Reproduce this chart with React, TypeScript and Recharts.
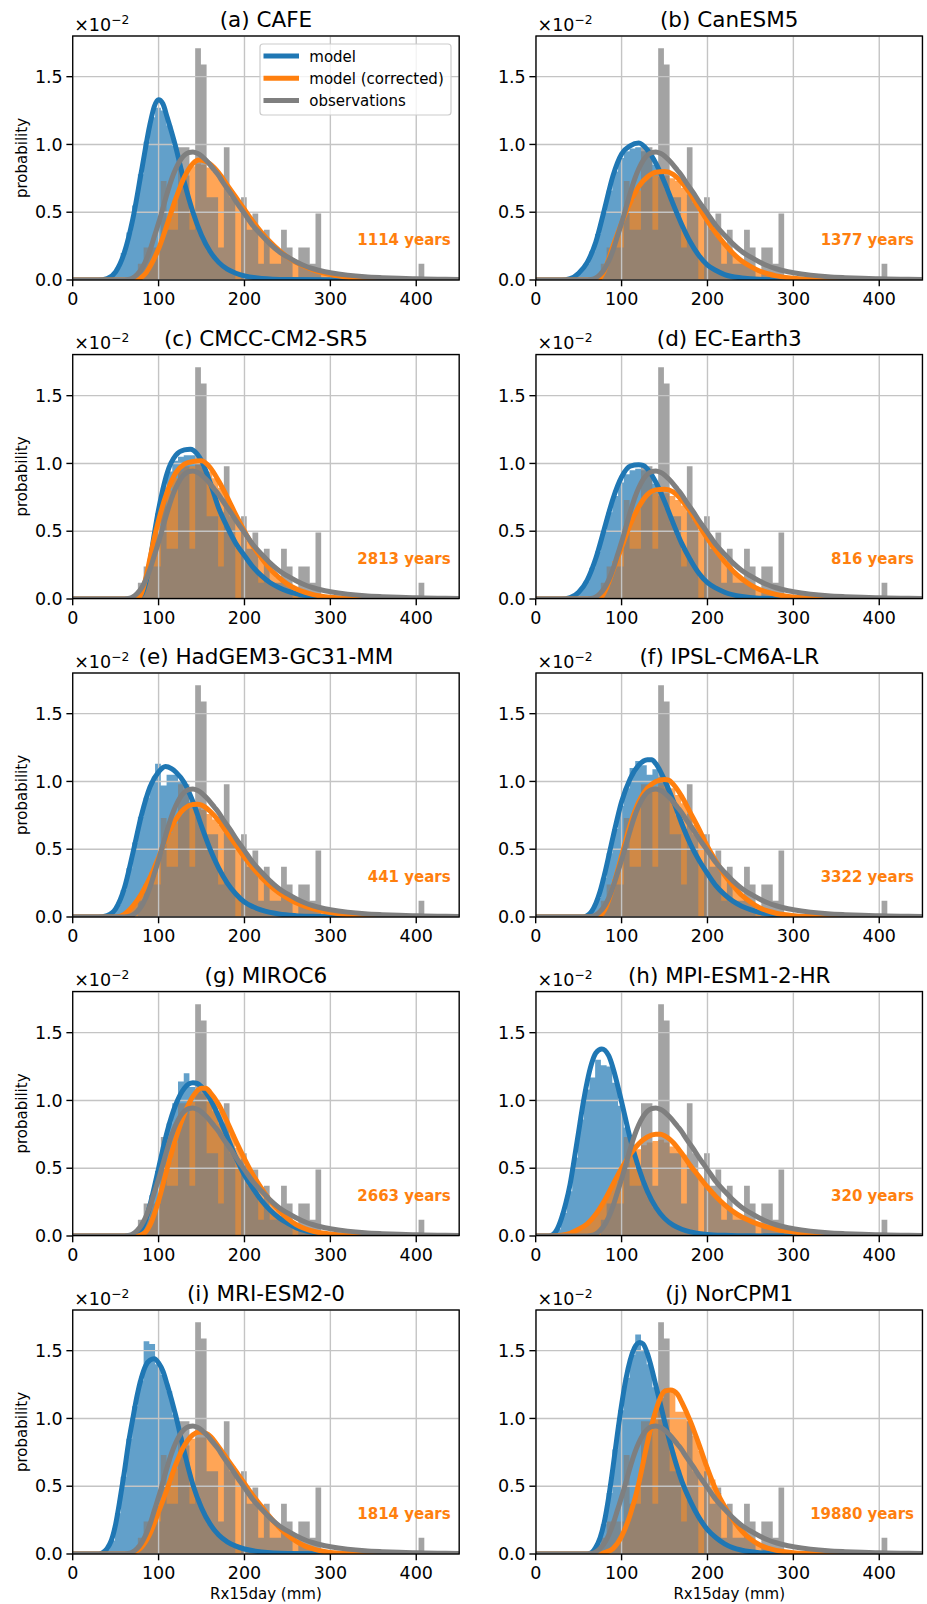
import React from 'react';
import { ComposedChart, Area, Line, XAxis, YAxis, CartesianGrid } from 'recharts';

// ---------- axes / ticks ----------
const X_TICKS = [0, 100, 200, 300, 400];
const Y_TICKS = [0, 0.5, 1.0, 1.5];
const X_DOMAIN: [number, number] = [0, 450];
const Y_DOMAIN: [number, number] = [0, 1.8];

// ---------- shared histogram bin edges (mm) ----------
const EDGES = [22.5, 29.2, 35.9, 42.5, 49.2, 55.9, 62.5, 69.2, 75.9, 82.6, 89.2, 95.9, 102.6, 109.3, 115.9, 122.6, 129.3, 135.9, 142.6, 149.3, 155.9, 162.6, 169.3, 176.0, 182.6, 189.3, 196.0, 202.6, 209.3, 216.0, 222.6, 229.3, 236.0, 242.6, 249.3, 256.0, 262.7, 269.3, 276.0, 282.7, 289.3, 296.0, 302.7, 309.3, 316.0, 322.7, 329.3, 336.0, 342.7, 349.3, 356.0, 362.7, 369.3, 376.0, 382.7, 389.3, 396.0, 402.7, 409.4];

// ---------- observations (same in every panel), values x 1e-2 ----------
const OBS_HIST = [0, 0, 0, 0, 0, 0, 0, 0, 0.12, 0.24, 0.24, 0.24, 0.73, 0.37, 0.37, 0.98, 0.98, 0.37, 1.71, 1.59, 0.61, 0.61, 0.24, 0.98, 0.61, 0, 0.61, 0.37, 0.49, 0.12, 0.37, 0.12, 0.12, 0.37, 0.24, 0, 0.24, 0.24, 0.12, 0.49, 0, 0, 0, 0, 0, 0, 0, 0, 0, 0, 0, 0, 0, 0, 0, 0, 0, 0.12];
const OBS_PDF: [number, number][] = [[0, 0], [60, 0], [65, 0.004], [70, 0.015], [75, 0.04], [80, 0.08], [85, 0.14], [90, 0.22], [95, 0.32], [100, 0.42], [105, 0.53], [110, 0.64], [115, 0.74], [120, 0.82], [125, 0.88], [130, 0.92], [135, 0.94], [140, 0.945], [145, 0.935], [150, 0.915], [155, 0.885], [160, 0.85], [165, 0.81], [170, 0.77], [175, 0.72], [180, 0.675], [185, 0.63], [190, 0.58], [195, 0.535], [200, 0.49], [210, 0.4], [220, 0.33], [230, 0.265], [240, 0.21], [250, 0.17], [260, 0.135], [270, 0.105], [280, 0.083], [290, 0.066], [300, 0.054], [320, 0.036], [340, 0.024], [360, 0.017], [380, 0.012], [400, 0.009], [425, 0.006], [450, 0.004]];

// ---------- (a) CAFE ----------
const CAFE_MODEL_HIST = [0, 0, 0.01, 0.03, 0.09, 0.2, 0.35, 0.55, 0.78, 1.02, 1.2, 1.27, 1.25, 1.14, 0.99, 0.82, 0.66, 0.5, 0.39, 0.29, 0.21, 0.16, 0.11, 0.08, 0.06, 0.04, 0.03, 0.02];
const CAFE_CORR_HIST = [0, 0, 0, 0, 0, 0, 0, 0, 0.02, 0.05, 0.12, 0.21, 0.32, 0.45, 0.58, 0.68, 0.77, 0.84, 0.86, 0.85, 0.83, 0.8, 0.75, 0.69, 0.64, 0.59, 0.53, 0.46, 0.41, 0.35, 0.3, 0.26, 0.22, 0.19, 0.16, 0.13, 0.11, 0.09, 0.075, 0.06, 0.05, 0.04, 0.033, 0.027, 0.022];
const CAFE_MODEL_PDF: [number, number][] = [[0, 0], [30, 0], [40, 0.01], [50, 0.06], [60, 0.2], [70, 0.45], [80, 0.8], [90, 1.15], [95, 1.28], [100, 1.33], [105, 1.3], [110, 1.2], [120, 0.98], [130, 0.72], [140, 0.5], [150, 0.33], [160, 0.21], [170, 0.13], [180, 0.08], [190, 0.05], [200, 0.03], [220, 0.012], [250, 0.004], [300, 0.001], [450, 0]];
const CAFE_CORR_PDF: [number, number][] = [[0, 0], [75, 0], [80, 0.02], [85, 0.05], [90, 0.1], [95, 0.16], [100, 0.23], [110, 0.41], [120, 0.6], [130, 0.76], [140, 0.86], [147, 0.885], [155, 0.875], [160, 0.855], [170, 0.79], [180, 0.7], [190, 0.61], [200, 0.52], [210, 0.43], [220, 0.35], [230, 0.28], [240, 0.22], [250, 0.17], [260, 0.13], [270, 0.1], [280, 0.075], [290, 0.055], [300, 0.04], [320, 0.021], [340, 0.011], [360, 0.006], [400, 0.002], [450, 0]];

// ---------- (b) CanESM5 ----------
const CANESM_MODEL_HIST = [0, 0, 0.01, 0.03, 0.07, 0.12, 0.21, 0.34, 0.5, 0.66, 0.8, 0.9, 0.95, 0.97, 0.98, 0.95, 0.91, 0.85, 0.76, 0.67, 0.57, 0.47, 0.37, 0.29, 0.22, 0.16, 0.11, 0.085, 0.06, 0.04, 0.03, 0.02];
const CANESM_CORR_HIST = [0, 0, 0, 0, 0, 0, 0, 0, 0.06, 0.16, 0.28, 0.4, 0.5, 0.59, 0.66, 0.71, 0.75, 0.77, 0.78, 0.77, 0.75, 0.73, 0.68, 0.63, 0.57, 0.5, 0.44, 0.38, 0.32, 0.27, 0.22, 0.18, 0.14, 0.12, 0.09, 0.07, 0.055, 0.042, 0.032, 0.025, 0.019];
const CANESM_MODEL_PDF: [number, number][] = [[0, 0], [30, 0], [40, 0.01], [50, 0.05], [60, 0.13], [70, 0.28], [80, 0.52], [90, 0.77], [100, 0.93], [110, 0.99], [120, 1.01], [130, 0.96], [140, 0.86], [150, 0.72], [160, 0.56], [170, 0.41], [180, 0.28], [190, 0.18], [200, 0.11], [210, 0.07], [220, 0.04], [240, 0.015], [260, 0.005], [300, 0.001], [450, 0]];
const CANESM_CORR_PDF: [number, number][] = [[0, 0], [72, 0], [80, 0.07], [90, 0.25], [100, 0.42], [110, 0.57], [120, 0.69], [130, 0.76], [140, 0.795], [150, 0.8], [160, 0.78], [170, 0.72], [180, 0.635], [190, 0.535], [200, 0.435], [210, 0.345], [220, 0.265], [230, 0.195], [240, 0.14], [250, 0.1], [260, 0.068], [270, 0.046], [280, 0.03], [300, 0.013], [320, 0.006], [350, 0.002], [450, 0]];

// ---------- (c) CMCC-CM2-SR5 ----------
const CMCC_MODEL_HIST = [0, 0, 0, 0, 0, 0, 0, 0, 0.02, 0.14, 0.37, 0.63, 0.82, 0.94, 1.02, 1.05, 1.06, 1.06, 1.03, 0.97, 0.86, 0.75, 0.64, 0.54, 0.46, 0.38, 0.32, 0.27, 0.22, 0.17, 0.14, 0.11, 0.087, 0.068, 0.052, 0.041, 0.032, 0.025, 0.019];
const CMCC_CORR_HIST = [0, 0, 0, 0, 0, 0, 0, 0, 0.03, 0.16, 0.36, 0.54, 0.68, 0.8, 0.89, 0.94, 0.97, 0.98, 0.99, 0.98, 0.94, 0.89, 0.82, 0.74, 0.66, 0.58, 0.5, 0.43, 0.37, 0.3, 0.25, 0.2, 0.16, 0.13, 0.1, 0.077, 0.06, 0.045, 0.034, 0.026, 0.02];
const CMCC_MODEL_PDF: [number, number][] = [[0, 0], [72, 0], [80, 0.03], [85, 0.12], [90, 0.28], [95, 0.48], [100, 0.66], [105, 0.81], [110, 0.93], [120, 1.06], [130, 1.1], [137, 1.105], [145, 1.07], [150, 1.02], [160, 0.86], [170, 0.67], [180, 0.53], [190, 0.41], [200, 0.32], [210, 0.235], [220, 0.17], [230, 0.12], [240, 0.085], [250, 0.058], [260, 0.04], [270, 0.027], [280, 0.018], [300, 0.008], [320, 0.003], [350, 0.001], [450, 0]];
const CMCC_CORR_PDF: [number, number][] = [[0, 0], [75, 0], [80, 0.04], [85, 0.15], [90, 0.3], [95, 0.45], [100, 0.58], [110, 0.79], [120, 0.93], [130, 0.995], [140, 1.015], [150, 1.02], [160, 0.97], [170, 0.87], [180, 0.75], [190, 0.62], [200, 0.5], [210, 0.39], [220, 0.3], [230, 0.22], [240, 0.16], [250, 0.11], [260, 0.075], [270, 0.05], [280, 0.032], [300, 0.013], [320, 0.005], [350, 0.001], [450, 0]];

// ---------- (d) EC-Earth3 ----------
const ECE_MODEL_HIST = [0, 0, 0.01, 0.03, 0.07, 0.13, 0.23, 0.35, 0.5, 0.64, 0.76, 0.86, 0.92, 0.95, 0.96, 0.95, 0.91, 0.85, 0.76, 0.67, 0.56, 0.46, 0.37, 0.3, 0.23, 0.16, 0.12, 0.095, 0.07, 0.05, 0.038, 0.028, 0.019];
const ECE_CORR_HIST = [0, 0, 0, 0, 0, 0, 0, 0, 0.06, 0.15, 0.28, 0.39, 0.5, 0.59, 0.66, 0.72, 0.76, 0.78, 0.79, 0.78, 0.76, 0.73, 0.69, 0.64, 0.58, 0.51, 0.45, 0.39, 0.33, 0.28, 0.23, 0.19, 0.15, 0.12, 0.095, 0.072, 0.056, 0.043, 0.033, 0.026, 0.02];
const ECE_MODEL_PDF: [number, number][] = [[0, 0], [30, 0], [40, 0.01], [50, 0.05], [60, 0.14], [70, 0.3], [80, 0.52], [90, 0.74], [100, 0.9], [110, 0.98], [120, 0.99], [125, 0.985], [130, 0.96], [140, 0.86], [150, 0.72], [160, 0.56], [170, 0.41], [180, 0.29], [190, 0.19], [200, 0.12], [210, 0.08], [220, 0.05], [240, 0.018], [260, 0.006], [300, 0.001], [450, 0]];
const ECE_CORR_PDF: [number, number][] = [[0, 0], [74, 0], [80, 0.05], [90, 0.21], [100, 0.38], [110, 0.55], [120, 0.68], [130, 0.77], [140, 0.805], [150, 0.81], [160, 0.79], [170, 0.73], [180, 0.645], [190, 0.545], [200, 0.445], [210, 0.355], [220, 0.275], [230, 0.205], [240, 0.15], [250, 0.105], [260, 0.072], [270, 0.05], [280, 0.033], [300, 0.014], [320, 0.006], [350, 0.002], [450, 0]];

// ---------- (e) HadGEM3-GC31-MM ----------
const HADGEM_MODEL_HIST = [0, 0, 0.01, 0.03, 0.09, 0.2, 0.36, 0.55, 0.74, 0.88, 1.0, 1.13, 0.97, 1.05, 1.05, 1.0, 0.94, 0.85, 0.74, 0.62, 0.51, 0.41, 0.33, 0.26, 0.2, 0.15, 0.11, 0.09, 0.065, 0.05, 0.04, 0.03, 0.022, 0.018];
const HADGEM_CORR_HIST = [0, 0, 0, 0, 0, 0.02, 0.05, 0.1, 0.16, 0.24, 0.33, 0.42, 0.53, 0.62, 0.69, 0.75, 0.79, 0.8, 0.8, 0.79, 0.76, 0.72, 0.68, 0.62, 0.57, 0.51, 0.45, 0.39, 0.34, 0.29, 0.25, 0.22, 0.18, 0.16, 0.13, 0.105, 0.09, 0.075, 0.06, 0.05, 0.042, 0.033, 0.027, 0.022, 0.018];
const HADGEM_MODEL_PDF: [number, number][] = [[0, 0], [30, 0], [40, 0.01], [50, 0.06], [60, 0.21], [70, 0.47], [80, 0.75], [90, 0.96], [100, 1.07], [108, 1.11], [115, 1.095], [120, 1.07], [130, 0.99], [140, 0.85], [150, 0.67], [160, 0.5], [170, 0.36], [180, 0.25], [190, 0.17], [200, 0.11], [210, 0.075], [220, 0.05], [240, 0.022], [260, 0.01], [280, 0.005], [300, 0.002], [330, 0.001], [450, 0]];
const HADGEM_CORR_PDF: [number, number][] = [[0, 0], [50, 0], [60, 0.02], [70, 0.08], [80, 0.17], [90, 0.29], [100, 0.44], [110, 0.6], [120, 0.72], [130, 0.8], [140, 0.83], [145, 0.832], [150, 0.825], [160, 0.78], [170, 0.71], [180, 0.62], [190, 0.53], [200, 0.44], [210, 0.36], [220, 0.29], [230, 0.23], [240, 0.18], [250, 0.14], [260, 0.105], [270, 0.08], [280, 0.06], [290, 0.045], [300, 0.033], [320, 0.018], [340, 0.01], [360, 0.005], [400, 0.001], [450, 0]];

// ---------- (f) IPSL-CM6A-LR ----------
const IPSL_MODEL_HIST = [0, 0, 0, 0, 0, 0.01, 0.05, 0.14, 0.29, 0.47, 0.65, 0.82, 0.95, 1.1, 1.15, 1.12, 1.05, 1.09, 1.03, 0.95, 0.85, 0.75, 0.65, 0.55, 0.47, 0.39, 0.33, 0.27, 0.21, 0.17, 0.13, 0.1, 0.08, 0.065, 0.05, 0.036, 0.028, 0.021];
const IPSL_CORR_HIST = [0, 0, 0, 0, 0, 0, 0, 0, 0.04, 0.15, 0.28, 0.42, 0.57, 0.7, 0.81, 0.89, 0.93, 0.96, 0.97, 0.97, 0.95, 0.9, 0.84, 0.76, 0.68, 0.6, 0.52, 0.45, 0.38, 0.32, 0.26, 0.21, 0.165, 0.13, 0.1, 0.072, 0.055, 0.04, 0.029, 0.022];
const IPSL_MODEL_PDF: [number, number][] = [[0, 0], [55, 0], [60, 0.01], [65, 0.04], [70, 0.1], [75, 0.19], [80, 0.31], [90, 0.59], [100, 0.85], [110, 1.02], [120, 1.12], [130, 1.16], [135, 1.16], [140, 1.13], [150, 1.01], [160, 0.86], [170, 0.69], [180, 0.54], [190, 0.42], [200, 0.32], [210, 0.23], [220, 0.165], [230, 0.115], [240, 0.08], [250, 0.055], [260, 0.035], [280, 0.014], [300, 0.005], [330, 0.001], [450, 0]];
const IPSL_CORR_PDF: [number, number][] = [[0, 0], [72, 0], [75, 0.01], [80, 0.05], [90, 0.22], [100, 0.45], [110, 0.68], [120, 0.85], [130, 0.95], [140, 1.0], [150, 1.015], [155, 1.01], [160, 0.98], [170, 0.89], [180, 0.77], [190, 0.65], [200, 0.52], [210, 0.41], [220, 0.31], [230, 0.23], [240, 0.16], [250, 0.11], [260, 0.07], [270, 0.045], [280, 0.028], [300, 0.01], [320, 0.004], [350, 0.001], [450, 0]];

// ---------- (g) MIROC6 ----------
const MIROC_MODEL_HIST = [0, 0, 0, 0, 0, 0, 0, 0, 0.04, 0.13, 0.3, 0.48, 0.66, 0.83, 0.98, 1.14, 1.2, 1.1, 1.08, 1.05, 0.99, 0.92, 0.83, 0.73, 0.63, 0.55, 0.46, 0.39, 0.32, 0.26, 0.22, 0.17, 0.14, 0.11, 0.085, 0.065, 0.05, 0.036, 0.026, 0.02];
const MIROC_CORR_HIST = [0, 0, 0, 0, 0, 0, 0, 0, 0.01, 0.03, 0.12, 0.25, 0.4, 0.55, 0.69, 0.81, 0.9, 0.99, 1.05, 1.1, 1.05, 0.99, 0.92, 0.83, 0.75, 0.65, 0.57, 0.49, 0.42, 0.36, 0.3, 0.24, 0.19, 0.155, 0.12, 0.088, 0.066, 0.05, 0.036, 0.027, 0.02];
const MIROC_MODEL_PDF: [number, number][] = [[0, 0], [70, 0], [75, 0.01], [80, 0.05], [85, 0.12], [90, 0.23], [100, 0.5], [110, 0.77], [120, 0.97], [130, 1.09], [140, 1.13], [145, 1.125], [150, 1.1], [160, 1.01], [170, 0.88], [180, 0.73], [190, 0.58], [200, 0.45], [210, 0.35], [220, 0.26], [230, 0.19], [240, 0.135], [250, 0.095], [260, 0.062], [270, 0.04], [280, 0.025], [300, 0.01], [330, 0.003], [360, 0.001], [450, 0]];
const MIROC_CORR_PDF: [number, number][] = [[0, 0], [76, 0], [80, 0.01], [85, 0.03], [90, 0.08], [100, 0.26], [110, 0.5], [120, 0.72], [130, 0.9], [140, 1.03], [150, 1.09], [155, 1.09], [160, 1.06], [170, 0.97], [180, 0.84], [190, 0.7], [200, 0.57], [210, 0.45], [220, 0.35], [230, 0.26], [240, 0.19], [250, 0.13], [260, 0.085], [270, 0.055], [280, 0.035], [300, 0.014], [320, 0.005], [350, 0.001], [450, 0]];

// ---------- (h) MPI-ESM1-2-HR ----------
const MPI_MODEL_HIST = [0.05, 0.17, 0.33, 0.58, 0.86, 1.08, 1.17, 1.3, 1.26, 1.25, 1.13, 0.96, 0.8, 0.65, 0.5, 0.39, 0.29, 0.21, 0.155, 0.115, 0.085, 0.06, 0.045, 0.032, 0.023, 0.017];
const MPI_CORR_HIST = [0, 0, 0.02, 0.035, 0.055, 0.085, 0.13, 0.18, 0.25, 0.32, 0.4, 0.47, 0.54, 0.6, 0.64, 0.67, 0.69, 0.7, 0.71, 0.69, 0.66, 0.64, 0.6, 0.53, 0.47, 0.42, 0.37, 0.32, 0.28, 0.24, 0.2, 0.17, 0.145, 0.12, 0.1, 0.085, 0.072, 0.06, 0.05, 0.042, 0.036, 0.03, 0.025, 0.021, 0.018];
const MPI_MODEL_PDF: [number, number][] = [[0, 0], [15, 0], [20, 0.01], [25, 0.05], [30, 0.13], [35, 0.24], [40, 0.38], [45, 0.57], [50, 0.77], [55, 0.97], [60, 1.14], [65, 1.27], [70, 1.35], [77, 1.38], [85, 1.33], [90, 1.24], [100, 0.99], [110, 0.72], [120, 0.5], [130, 0.33], [140, 0.21], [150, 0.13], [160, 0.08], [170, 0.05], [180, 0.03], [200, 0.012], [220, 0.005], [250, 0.001], [450, 0]];
const MPI_CORR_PDF: [number, number][] = [[0, 0], [20, 0], [30, 0.005], [40, 0.02], [50, 0.05], [60, 0.09], [70, 0.16], [80, 0.26], [90, 0.38], [100, 0.5], [110, 0.6], [120, 0.68], [130, 0.73], [140, 0.75], [145, 0.75], [150, 0.74], [160, 0.69], [170, 0.61], [180, 0.52], [190, 0.44], [200, 0.36], [210, 0.29], [220, 0.23], [230, 0.18], [240, 0.14], [250, 0.11], [260, 0.085], [270, 0.065], [280, 0.05], [290, 0.038], [300, 0.029], [320, 0.017], [340, 0.01], [360, 0.006], [400, 0.002], [450, 0.001]];

// ---------- (i) MRI-ESM2-0 ----------
const MRI_MODEL_HIST = [0, 0, 0.03, 0.1, 0.3, 0.57, 0.85, 1.09, 1.28, 1.57, 1.55, 1.4, 1.32, 1.2, 1.03, 0.86, 0.68, 0.52, 0.41, 0.3, 0.22, 0.17, 0.125, 0.09, 0.07, 0.05, 0.037, 0.03, 0.022, 0.016];
const MRI_CORR_HIST = [0, 0, 0, 0, 0, 0, 0, 0.02, 0.05, 0.1, 0.19, 0.3, 0.41, 0.52, 0.63, 0.72, 0.8, 0.85, 0.86, 0.86, 0.85, 0.81, 0.76, 0.7, 0.65, 0.59, 0.52, 0.47, 0.41, 0.35, 0.3, 0.25, 0.2, 0.17, 0.13, 0.1, 0.075, 0.055, 0.04, 0.028, 0.02];
const MRI_MODEL_PDF: [number, number][] = [[0, 0], [30, 0], [35, 0.01], [40, 0.04], [45, 0.1], [50, 0.22], [55, 0.4], [60, 0.6], [65, 0.82], [70, 1.0], [75, 1.17], [80, 1.3], [85, 1.39], [90, 1.43], [95, 1.44], [100, 1.41], [105, 1.35], [110, 1.25], [120, 1.02], [130, 0.75], [140, 0.51], [150, 0.34], [160, 0.22], [170, 0.14], [180, 0.09], [190, 0.058], [200, 0.037], [220, 0.015], [250, 0.004], [300, 0.001], [450, 0]];
const MRI_CORR_PDF: [number, number][] = [[0, 0], [65, 0], [70, 0.01], [80, 0.05], [90, 0.15], [100, 0.31], [110, 0.48], [120, 0.66], [130, 0.8], [140, 0.88], [148, 0.9], [155, 0.89], [160, 0.87], [170, 0.79], [180, 0.7], [190, 0.61], [200, 0.52], [210, 0.43], [220, 0.35], [230, 0.27], [240, 0.2], [250, 0.14], [260, 0.095], [270, 0.06], [280, 0.038], [290, 0.022], [300, 0.012], [320, 0.004], [350, 0.001], [450, 0]];

// ---------- (j) NorCPM1 ----------
const NORCPM_MODEL_HIST = [0, 0, 0, 0, 0, 0, 0.01, 0.08, 0.22, 0.45, 0.77, 1.06, 1.3, 1.47, 1.62, 1.5, 1.4, 1.23, 1.07, 0.91, 0.75, 0.62, 0.5, 0.4, 0.32, 0.25, 0.19, 0.14, 0.105, 0.08, 0.058, 0.042, 0.03, 0.022, 0.016];
const NORCPM_CORR_HIST = [0, 0, 0, 0, 0, 0, 0, 0, 0, 0.02, 0.06, 0.12, 0.22, 0.35, 0.5, 0.7, 0.88, 1.03, 1.15, 1.22, 1.2, 1.05, 1.05, 0.98, 0.87, 0.76, 0.64, 0.55, 0.45, 0.36, 0.29, 0.23, 0.18, 0.14, 0.1, 0.075, 0.056, 0.04, 0.028, 0.02];
const NORCPM_MODEL_PDF: [number, number][] = [[0, 0], [60, 0], [65, 0.01], [70, 0.05], [75, 0.12], [80, 0.24], [85, 0.42], [90, 0.64], [95, 0.88], [100, 1.1], [105, 1.29], [110, 1.43], [115, 1.52], [121, 1.56], [125, 1.55], [130, 1.48], [135, 1.37], [140, 1.24], [145, 1.11], [150, 0.98], [160, 0.74], [170, 0.54], [180, 0.39], [190, 0.27], [200, 0.18], [210, 0.12], [220, 0.075], [230, 0.045], [240, 0.028], [260, 0.01], [280, 0.004], [300, 0.001], [450, 0]];
const NORCPM_CORR_PDF: [number, number][] = [[0, 0], [75, 0], [80, 0.01], [90, 0.04], [100, 0.13], [110, 0.29], [120, 0.52], [125, 0.67], [130, 0.82], [135, 0.95], [140, 1.06], [145, 1.15], [150, 1.2], [157, 1.21], [165, 1.18], [170, 1.12], [180, 0.98], [190, 0.81], [200, 0.63], [210, 0.47], [220, 0.35], [230, 0.25], [240, 0.17], [250, 0.11], [260, 0.07], [270, 0.043], [280, 0.027], [290, 0.017], [300, 0.01], [320, 0.004], [350, 0.001], [450, 0]];

// ---------- panel list ----------
const TITLES = ['(a) CAFE', '(b) CanESM5', '(c) CMCC-CM2-SR5', '(d) EC-Earth3', '(e) HadGEM3-GC31-MM', '(f) IPSL-CM6A-LR', '(g) MIROC6', '(h) MPI-ESM1-2-HR', '(i) MRI-ESM2-0', '(j) NorCPM1'];
const YEARS = ['1114 years', '1377 years', '2813 years', '816 years', '441 years', '3322 years', '2663 years', '320 years', '1814 years', '19880 years'];
const MODEL_HISTS = [CAFE_MODEL_HIST, CANESM_MODEL_HIST, CMCC_MODEL_HIST, ECE_MODEL_HIST, HADGEM_MODEL_HIST, IPSL_MODEL_HIST, MIROC_MODEL_HIST, MPI_MODEL_HIST, MRI_MODEL_HIST, NORCPM_MODEL_HIST];
const CORR_HISTS = [CAFE_CORR_HIST, CANESM_CORR_HIST, CMCC_CORR_HIST, ECE_CORR_HIST, HADGEM_CORR_HIST, IPSL_CORR_HIST, MIROC_CORR_HIST, MPI_CORR_HIST, MRI_CORR_HIST, NORCPM_CORR_HIST];
const MODEL_PDFS = [CAFE_MODEL_PDF, CANESM_MODEL_PDF, CMCC_MODEL_PDF, ECE_MODEL_PDF, HADGEM_MODEL_PDF, IPSL_MODEL_PDF, MIROC_MODEL_PDF, MPI_MODEL_PDF, MRI_MODEL_PDF, NORCPM_MODEL_PDF];
const CORR_PDFS = [CAFE_CORR_PDF, CANESM_CORR_PDF, CMCC_CORR_PDF, ECE_CORR_PDF, HADGEM_CORR_PDF, IPSL_CORR_PDF, MIROC_CORR_PDF, MPI_CORR_PDF, MRI_CORR_PDF, NORCPM_CORR_PDF];
const LEGEND_LABELS = ['model', 'model (corrected)', 'observations'];

// ---------- layout / style ----------
const FONT = '"DejaVu Sans", Verdana, sans-serif';
const BLUE = '#1f77b4';
const ORANGE = '#ff7f0e';
const GREY = '#7f7f7f';
const COL_LEFT = [72.7, 536];
const ROW_TOP = [36, 354.5, 673, 991.5, 1310];
const PLOT_W = 386.5;
const PLOT_H = 244;
const Y_AXIS_W = 72.7;
const X_AXIS_H = 40;
const TOP_PAD = 36;
const RIGHT_PAD = 8;
const TICK_FS = 17.5;
const CURVE_W = 5;

function histPoints(heights: number[]) {
  const pts = heights.map((h, i) => ({ x: EDGES[i], y: h }));
  pts.push({ x: EDGES[heights.length], y: heights[heights.length - 1] });
  return pts;
}
function pdfPoints(pairs: [number, number][]) {
  return pairs.map(([x, y]) => ({ x, y }));
}

function Panel({ idx }: { idx: number }) {
  const col = idx % 2;
  const row = Math.floor(idx / 2);
  const left = COL_LEFT[col] - Y_AXIS_W;
  const top = ROW_TOP[row] - TOP_PAD;
  const tickStyle = { fill: '#000', fontSize: TICK_FS, fontFamily: FONT };
  return (
    <div style={{ position: 'absolute', left, top }}>
      <ComposedChart
        width={Y_AXIS_W + PLOT_W + RIGHT_PAD}
        height={TOP_PAD + PLOT_H + X_AXIS_H}
        margin={{ top: TOP_PAD, right: RIGHT_PAD, bottom: 0, left: 0 }}
      >
        <XAxis
          dataKey="x"
          type="number"
          domain={X_DOMAIN}
          ticks={X_TICKS}
          interval={0}
          allowDataOverflow
          height={X_AXIS_H}
          axisLine={false}
          tickLine={{ stroke: '#000', strokeWidth: 1.4 }}
          tickSize={6.3}
          tickMargin={6.3}
          tick={tickStyle}
        />
        <YAxis
          type="number"
          domain={Y_DOMAIN}
          ticks={Y_TICKS}
          interval={0}
          allowDataOverflow
          width={Y_AXIS_W}
          axisLine={false}
          tickLine={{ stroke: '#000', strokeWidth: 1.4 }}
          tickSize={6.3}
          tickMargin={3.7}
          tick={tickStyle}
          tickFormatter={(v: number) => v.toFixed(1)}
        />
        <Area data={histPoints(MODEL_HISTS[idx])} dataKey="y" type="stepAfter" stroke="none" fill={BLUE} fillOpacity={0.7} isAnimationActive={false} dot={false} activeDot={false} />
        <Area data={histPoints(CORR_HISTS[idx])} dataKey="y" type="stepAfter" stroke="none" fill={ORANGE} fillOpacity={0.7} isAnimationActive={false} dot={false} activeDot={false} />
        <Area data={histPoints(OBS_HIST)} dataKey="y" type="stepAfter" stroke="none" fill={GREY} fillOpacity={0.72} isAnimationActive={false} dot={false} activeDot={false} />
        <CartesianGrid stroke="#c4c4c4" strokeWidth={1.4} zIndex={150} />
        <Line data={pdfPoints(MODEL_PDFS[idx])} dataKey="y" type="monotone" stroke={BLUE} strokeWidth={CURVE_W} dot={false} activeDot={false} isAnimationActive={false} />
        <Line data={pdfPoints(CORR_PDFS[idx])} dataKey="y" type="monotone" stroke={ORANGE} strokeWidth={CURVE_W} dot={false} activeDot={false} isAnimationActive={false} />
        <Line data={pdfPoints(OBS_PDF)} dataKey="y" type="monotone" stroke={GREY} strokeWidth={CURVE_W} dot={false} activeDot={false} isAnimationActive={false} />
      </ComposedChart>
    </div>
  );
}

function Overlay() {
  const items: React.ReactNode[] = [];
  TITLES.forEach((title, idx) => {
    const col = idx % 2;
    const row = Math.floor(idx / 2);
    const x0 = COL_LEFT[col];
    const y0 = ROW_TOP[row];
    items.push(
      <g key={'p' + idx}>
        <rect x={x0} y={y0} width={PLOT_W} height={PLOT_H} fill="none" stroke="#000" strokeWidth={1.3} />
        <text x={x0 + PLOT_W / 2} y={y0 - 9} textAnchor="middle" fontSize={21.5} fill="#000">{title}</text>
        <text x={x0 + 1.5} y={y0 - 5.5} fontSize={TICK_FS} fill="#000">
          ×10<tspan dy={-7} fontSize={12.25}>−2</tspan>
        </text>
        <text x={x0 + PLOT_W - 8.5} y={y0 + 209} textAnchor="end" fontSize={15} fontWeight="bold" fill={ORANGE}>{YEARS[idx]}</text>
        {col === 0 ? (
          <text transform={`translate(${26.5}, ${y0 + PLOT_H / 2}) rotate(-90)`} textAnchor="middle" fontSize={15} fill="#000">probability</text>
        ) : null}
        {row === 4 ? (
          <text x={x0 + PLOT_W / 2} y={1599} textAnchor="middle" fontSize={15} fill="#000">Rx15day (mm)</text>
        ) : null}
      </g>
    );
  });
  const legendColors = [BLUE, ORANGE, GREY];
  items.push(
    <g key="legend">
      <rect x={260} y={44} width={191} height={71} rx={3} ry={3} fill="#fff" fillOpacity={0.8} stroke="#cccccc" strokeWidth={1.2} />
      {LEGEND_LABELS.map((lab, i) => (
        <g key={lab}>
          <line x1={263.5} x2={299} y1={56 + i * 22.3} y2={56 + i * 22.3} stroke={legendColors[i]} strokeWidth={CURVE_W} />
          <text x={309.3} y={56 + i * 22.3 + 5.5} fontSize={15} fill="#000">{lab}</text>
        </g>
      ))}
    </g>
  );
  return (
    <svg width={927} height={1604} style={{ position: 'absolute', left: 0, top: 0, pointerEvents: 'none' }} fontFamily={FONT}>
      {items}
    </svg>
  );
}

export default function App() {
  return (
    <div style={{ position: 'absolute', left: 0, top: 0, width: 927, height: 1604, background: '#fff', fontFamily: FONT, overflow: 'hidden' }}>
      {TITLES.map((_, idx) => (
        <Panel key={idx} idx={idx} />
      ))}
      <Overlay />
    </div>
  );
}
